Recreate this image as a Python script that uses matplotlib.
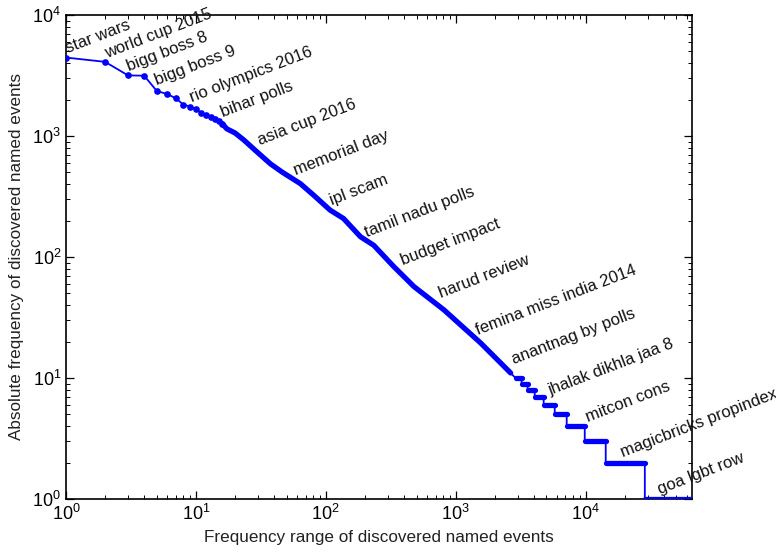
import numpy as np
import matplotlib
matplotlib.use("Agg")
import matplotlib.pyplot as plt

plt.rcParams['font.family'] = ['Liberation Sans Narrow', 'Liberation Sans', 'DejaVu Sans']

curve_rank = [1, 2, 3, 4, 5, 6, 7, 8, 9, 10, 11, 12, 13, 14, 15, 16,
              17.3, 20, 23.3, 28.7, 37.4, 46, 63.7, 80.7, 108, 137,
              185, 234, 334, 477, 811, 1090, 1555, 2355, 2650]
curve_freq = [4450, 4100, 3170, 3150, 2355, 2225, 2050, 1820, 1750, 1675,
              1550, 1480, 1430, 1375, 1340, 1260, 1146, 1060, 930, 760,
              590, 504, 404, 324, 244, 208, 147, 125, 83.3, 57, 36.6,
              27.5, 19.5, 12.5, 11]

# tail: integer frequencies and the rank where each one starts
step_freq = [10, 9, 8, 7, 6, 5, 4, 3, 2, 1]
step_start = [2890, 3220, 3580, 4060, 4760, 5790, 7160, 9860, 14300, 28600]
last_rank = 66000

event_names = ["star wars", "world cup 2015", "bigg boss 8", "bigg boss 9",
               "rio olympics 2016", "bihar polls", "asia cup 2016",
               "memorial day", "ipl scam", "tamil nadu polls",
               "budget impact", "harud review", "femina miss india 2014",
               "anantnag by polls", "jhalak dikhla jaa 8", "mitcon cons",
               "magicbricks propindex", "goa lgbt row"]
event_rank = [1.04, 2.07, 3.06, 5.03, 9.36, 16.2, 31.3, 59.3, 112, 209,
              396, 765, 1475, 2795, 5390, 10400, 19400, 37300]
event_freq = [4865, 4430, 3460, 2605, 1888, 1419, 835, 473, 268, 146,
              86, 46, 22.8, 12.9, 7.18, 4.3, 2.22, 1.1]


def main():
    # full series: curve then the integer steps
    step_end = step_start[1:] + [last_rank]
    step_end = [e - 1 if e != last_rank else e for e in step_end]
    xs = list(curve_rank)
    ys = list(curve_freq)
    for f, s, e in zip(step_freq, step_start, step_end):
        xs += [s, e]
        ys += [f, f]

    fig = plt.figure(figsize=(7.76, 5.54), dpi=100)
    ax = fig.add_axes([66 / 776, 1 - 499 / 554, (692 - 66) / 776, (499 - 15) / 554])

    blue = '#0000ff'
    ax.plot(xs, ys, '-', color=blue, lw=1.3, zorder=3)
    # head: individual markers
    ax.plot(curve_rank[:16], curve_freq[:16], 'o', color=blue, ms=3.8,
            mec=blue, zorder=4)
    # body: dense markers merge into a thick band
    ax.plot(curve_rank[15:], curve_freq[15:], '-', color=blue, lw=3.8,
            solid_capstyle='round', solid_joinstyle='round', zorder=4)
    for f, s, e in zip(step_freq, step_start, step_end):
        ax.plot([s, e], [f, f], '-', color=blue, lw=3.8,
                solid_capstyle='round', zorder=4)

    ax.set_xscale('log')
    ax.set_yscale('log')
    ax.set_xlim(1, last_rank)
    ax.set_ylim(1, 1e4)

    for name, r, f in zip(event_names, event_rank, event_freq):
        ax.text(r, f, name, rotation=21, rotation_mode='anchor',
                ha='left', va='baseline', fontsize=12, color='#111111',
                zorder=5)

    ax.tick_params(which='both', direction='in', top=True, right=True,
                   labelsize=13)
    ax.tick_params(which='major', length=6, width=0.9)
    ax.tick_params(which='minor', length=3, width=0.7)
    for sp in ax.spines.values():
        sp.set_linewidth(1.2)

    ax.set_xlabel("Frequency range of discovered named events", fontsize=12.3,
                  color='#222222')
    ax.set_ylabel("Absolute frequency of discovered named events", fontsize=12.3,
                  color='#222222', labelpad=6)

    fig.savefig("out.png", dpi=100)


if __name__ == "__main__":
    main()
